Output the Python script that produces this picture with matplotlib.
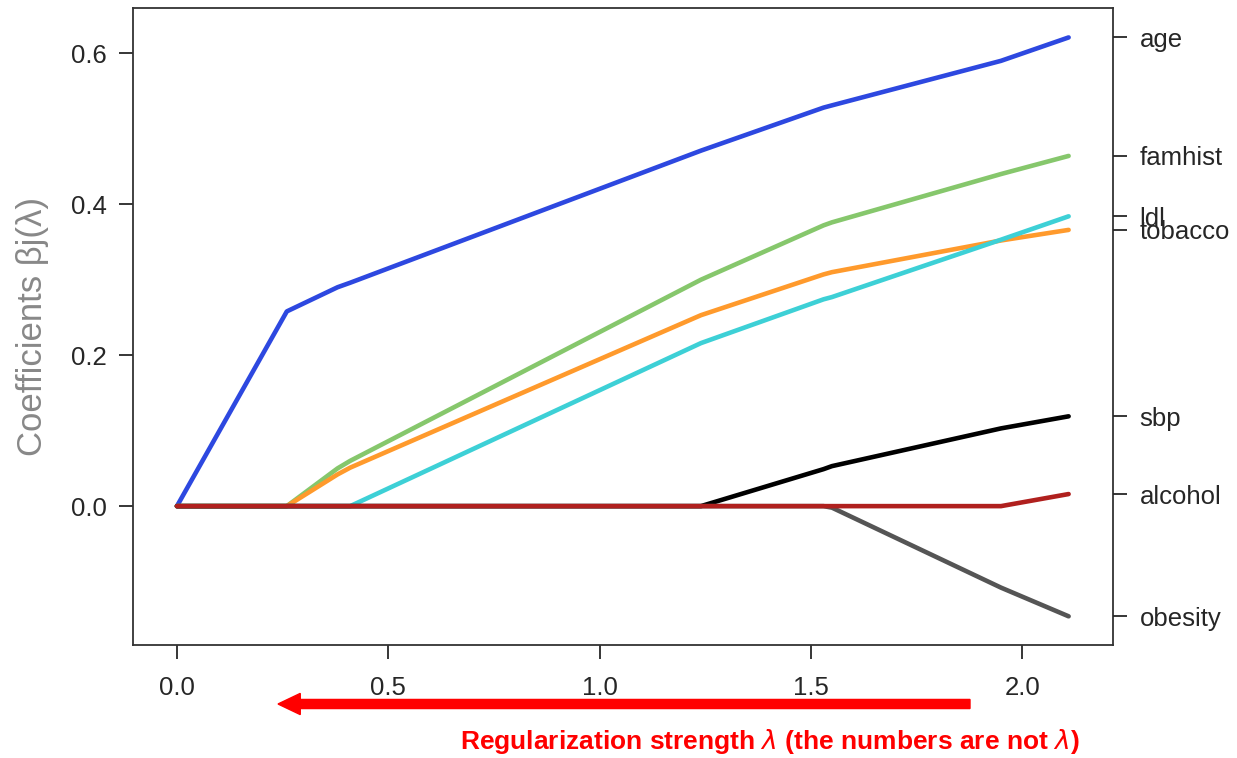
import matplotlib
matplotlib.use('Agg')
import matplotlib.pyplot as plt

plt.rcParams['font.family'] = ['Liberation Sans', 'DejaVu Sans']

# path knots (x axis position) and coefficient values per feature
xs = [0.0, 0.26, 0.38, 0.41, 1.24, 1.53, 1.55, 1.95, 2.11]
features = ['age', 'famhist', 'ldl', 'tobacco', 'sbp', 'alcohol', 'obesity']
age = [0.0, 0.258, 0.290, 0.296, 0.471, 0.528, 0.531, 0.590, 0.621]
famhist = [0.0, 0.0, 0.050, 0.060, 0.300, 0.372, 0.376, 0.440, 0.464]
ldl = [0.0, 0.0, 0.0, 0.0, 0.216, 0.274, 0.277, 0.353, 0.384]
tobacco = [0.0, 0.0, 0.042, 0.051, 0.253, 0.307, 0.310, 0.352, 0.366]
sbp = [0.0, 0.0, 0.0, 0.0, 0.0, 0.049, 0.053, 0.103, 0.119]
alcohol = [0.0, 0.0, 0.0, 0.0, 0.0, 0.0, 0.0, 0.0, 0.016]
obesity = [0.0, 0.0, 0.0, 0.0, 0.0, 0.0, -0.002, -0.108, -0.146]

series = [age, famhist, ldl, tobacco, sbp, alcohol, obesity]
colors = ['#2d48e0', '#86c76c', '#3dd0d6', '#ff9a2c', '#000000', '#b0201e', '#555555']
draw_order = [0, 1, 3, 2, 4, 6, 5]

fig = plt.figure(figsize=(12.37, 7.58), dpi=100)
ax = fig.add_axes([133 / 1237, 1 - 645 / 758, 980 / 1237, 637 / 758])

for i in draw_order:
    ax.plot(xs, series[i], color=colors[i], lw=3.3, solid_capstyle='round')

ax.set_xlim(-0.104, 2.215)
ax.set_ylim(-0.184, 0.66)
ax.set_xticks([0.0, 0.5, 1.0, 1.5, 2.0])
ax.set_yticks([0.0, 0.2, 0.4, 0.6])
ax.tick_params(direction='out', length=10, width=1.3, labelsize=18.5, colors='#262626')
ax.tick_params(axis='x', pad=12)
ax.tick_params(axis='y', pad=9)
for s in ax.spines.values():
    s.set_color('#333333')
    s.set_linewidth(1.3)
ax.set_ylabel('Coefficients βj(λ)', fontsize=25, color='#888888', labelpad=16)

# feature names on the right at the end values
ax2 = ax.twinx()
ax2.set_ylim(ax.get_ylim())
ends = [s[-1] for s in series]
ax2.set_yticks(ends)
ax2.set_yticklabels(features)
ax2.tick_params(direction='out', length=10, width=1.3, labelsize=18.5, colors='#262626', pad=9)
for s in ax2.spines.values():
    s.set_visible(False)

# red arrow and note below the axis
fig.patches.append(matplotlib.patches.FancyArrow(
    970 / 1237, 1 - 704 / 758, -(970 - 278) / 1237, 0, width=0.012,
    head_width=0.028, head_length=0.018, length_includes_head=True,
    color='red', transform=fig.transFigure, figure=fig))
fig.text(770 / 1237, 1 - 742 / 758, 'Regularization strength $\\mathit{\\lambda}$ (the numbers are not $\\mathit{\\lambda}$)',
         color='red', fontsize=19, fontweight='bold', ha='center', va='center')

fig.savefig('out.png', dpi=100)
